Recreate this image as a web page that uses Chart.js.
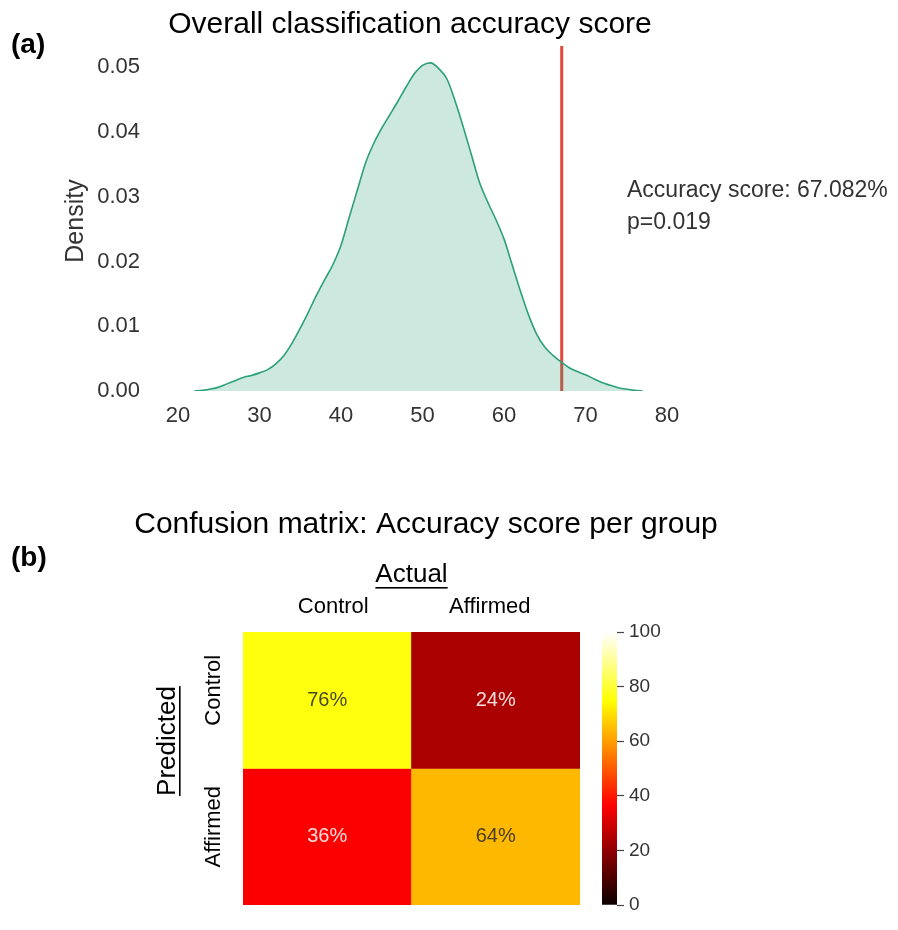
<!DOCTYPE html>
<html lang="en">
<head>
<meta charset="UTF-8">
<title>Classification accuracy</title>
<script src="https://cdn.jsdelivr.net/npm/chart.js@4"></script>
<style>
  body { margin: 0; background: #fff; }
  #wrap { position: relative; width: 898px; height: 930px; }
  canvas { position: absolute; }
</style>
</head>
<body>
<div id="wrap">
  <canvas id="densityChart" width="898" height="450" style="left:0;top:0"></canvas>
  <canvas id="matrixChart" width="898" height="470" style="left:0;top:460px"></canvas>
  <canvas id="colorbarChart" width="130" height="330" style="left:560px;top:600px"></canvas>
</div>

<script>
// ---- data ----
const accuracyGrid = [22, 23, 24, 25, 26, 27, 28, 29, 30, 31, 32, 33, 34, 35, 36, 37, 38, 39, 40,
  41, 42, 43, 44, 45, 46, 47, 48, 49, 50, 51, 52, 53, 54, 55, 56, 57, 58, 59, 60,
  61, 62, 63, 64, 65, 66, 67, 68, 69, 70, 71, 72, 73, 74, 75, 76, 77];
const densityValues = [0, 0.0001, 0.0003, 0.0006, 0.0011, 0.0016, 0.0021, 0.0024, 0.0028, 0.0033,
  0.0042, 0.0055, 0.0074, 0.0097, 0.0122, 0.0148, 0.0172, 0.0195, 0.0225,
  0.0268, 0.031, 0.0352, 0.0382, 0.0406, 0.0427, 0.0448, 0.047, 0.049, 0.0503, 0.0507,
  0.0498, 0.0482, 0.0448, 0.0408, 0.0365, 0.0322, 0.0292, 0.0265, 0.0235,
  0.0195, 0.0155, 0.0118, 0.0088, 0.0068, 0.0055, 0.0045, 0.0036, 0.003, 0.0025,
  0.0019, 0.0013, 0.0009, 0.0005, 0.0003, 0.0001, 0];
const observedScore = 67.082;
const pValue = 0.019;

const actualLabels = ['Control', 'Affirmed'];
const predictedLabels = ['Control', 'Affirmed'];
// rows = predicted, columns = actual (percent)
const matrixValues = [
  [76, 24],
  [36, 64]
];
const colorbarTicks = [0, 20, 40, 60, 80, 100];

const FONT = "'Liberation Sans', Arial, Helvetica, sans-serif";
const densityAxisMax = 0.0533;

// matplotlib "hot" colormap
function hotRGB(v) {
  const t = Math.max(0, Math.min(1, v / 100));
  const r = t < 0.365 ? 0.0416 + 0.9584 * t / 0.365 : 1;
  const g = t < 0.365 ? 0 : (t < 0.746 ? (t - 0.365) / 0.381 : 1);
  const b = t < 0.746 ? 0 : (t - 0.746) / 0.254;
  return [r, g, b].map(c => Math.round(c * 255));
}
function hotColor(v) {
  const c = hotRGB(v);
  return `rgb(${c[0]}, ${c[1]}, ${c[2]})`;
}
function textColorFor(v) {
  const c = hotRGB(v).map(x => x / 255);
  const lum = 0.2126 * c[0] + 0.7152 * c[1] + 0.0722 * c[2];
  return lum > 0.408 ? 'rgba(40,40,40,0.85)' : 'rgba(255,240,240,0.92)';
}

function rotatedText(ctx, text, x, y, font, color) {
  ctx.save();
  ctx.translate(x, y);
  ctx.rotate(-Math.PI / 2);
  ctx.font = font;
  ctx.fillStyle = color;
  ctx.textAlign = 'center';
  ctx.textBaseline = 'alphabetic';
  ctx.fillText(text, 0, 0);
  ctx.restore();
}

Chart.defaults.font.family = FONT;
Chart.defaults.animation = false;

// ---- (a) density plot ----
const densityText = {
  id: 'densityText',
  afterDraw(chart) {
    const ctx = chart.ctx;
    ctx.save();
    ctx.fillStyle = '#000';
    ctx.textAlign = 'center';
    ctx.font = '30px ' + FONT;
    ctx.fillText('Overall classification accuracy score', 410, 33);
    ctx.textAlign = 'left';
    ctx.font = 'bold 28px ' + FONT;
    ctx.fillText('(a)', 11, 53);
    ctx.fillStyle = '#333';
    ctx.font = '23px ' + FONT;
    ctx.fillText('Accuracy score: ' + observedScore.toFixed(3) + '%', 627, 197);
    ctx.fillText('p=' + pValue, 627, 229);
    ctx.restore();
    rotatedText(ctx, 'Density', 83, 221, '25px ' + FONT, '#333');
  }
};

new Chart(document.getElementById('densityChart'), {
  type: 'line',
  data: {
    datasets: [
      {
        data: accuracyGrid.map((x, i) => ({ x: x, y: densityValues[i] })),
        borderColor: '#2ca07a',
        backgroundColor: 'rgba(44,160,122,0.24)',
        borderWidth: 1.6,
        fill: 'origin',
        pointRadius: 0,
        cubicInterpolationMode: 'monotone'
      },
      {
        data: [{ x: observedScore, y: 0 }, { x: observedScore, y: densityAxisMax }],
        borderColor: '#e2473a',
        borderWidth: 3,
        pointRadius: 0,
        fill: false
      }
    ]
  },
  options: {
    responsive: false,
    layout: { padding: { left: 88, top: 46, right: 231, bottom: 9 } },
    plugins: { legend: { display: false }, tooltip: { enabled: false } },
    scales: {
      x: {
        type: 'linear', min: 20, max: 80,
        ticks: { stepSize: 10, font: { size: 22 }, color: '#333', padding: 12 },
        grid: { color: 'rgba(255,255,255,0.45)', drawTicks: false },
        border: { display: false },
        afterFit(s) { s.height = 50; }
      },
      y: {
        min: 0, max: densityAxisMax, bounds: 'data',
        ticks: { stepSize: 0.01, includeBounds: false, font: { size: 22 }, color: '#333', padding: 38,
          callback: v => v.toFixed(2) },
        grid: { color: 'rgba(255,255,255,0.45)', drawTicks: false },
        border: { display: false },
        afterFit(s) { s.width = 90; s.paddingTop = 0; s.paddingBottom = 0; }
      }
    }
  },
  plugins: [densityText]
});

// ---- (b) confusion matrix ----
const OFFSET_Y = 460;
const matrixText = {
  id: 'matrixText',
  afterDatasetsDraw(chart) {
    const ctx = chart.ctx;
    ctx.save();
    ctx.font = '20px ' + FONT;
    ctx.textAlign = 'center';
    ctx.textBaseline = 'middle';
    chart.data.datasets.forEach((ds, r) => {
      chart.getDatasetMeta(r).data.forEach((bar, c) => {
        const v = matrixValues[r][c];
        ctx.fillStyle = textColorFor(v);
        ctx.fillText(v + '%', bar.x, (bar.y + bar.base) / 2);
      });
    });
    ctx.restore();
  },
  afterDraw(chart) {
    const ctx = chart.ctx;
    const area = chart.chartArea;
    const xScale = chart.scales.x;
    const yScale = chart.scales.y;
    ctx.save();
    ctx.fillStyle = '#000';
    ctx.textAlign = 'center';
    ctx.font = '30px ' + FONT;
    ctx.fillText('Confusion matrix: Accuracy score per group', 426, 533 - OFFSET_Y);
    ctx.textAlign = 'left';
    ctx.font = 'bold 28px ' + FONT;
    ctx.fillText('(b)', 11, 566 - OFFSET_Y);
    // "Actual" underlined
    ctx.font = '26px ' + FONT;
    ctx.textAlign = 'center';
    const ax = (area.left + area.right) / 2;
    const ay = 582 - OFFSET_Y;
    ctx.fillText('Actual', ax, ay);
    const aw = ctx.measureText('Actual').width;
    ctx.fillRect(ax - aw / 2, ay + 5, aw, 1.6);
    // column labels (actual), nudged toward the middle as in the figure
    ctx.font = '22px ' + FONT;
    actualLabels.forEach((lab, c) => {
      const nudge = c === 0 ? 6 : -6;
      ctx.fillText(lab, xScale.getPixelForValue(c) + nudge, 613 - OFFSET_Y);
    });
    ctx.restore();

    // row labels (predicted)
    predictedLabels.forEach((lab, r) => {
      const y = yScale.getPixelForValue(predictedLabels.length - r - 0.5) - 10;
      rotatedText(ctx, lab, 220, y, '22px ' + FONT, '#000');
    });
    // "Predicted" underlined, rotated
    const py = 741 - OFFSET_Y;
    rotatedText(ctx, 'Predicted', 175, py, '26px ' + FONT, '#000');
    ctx.save();
    ctx.font = '26px ' + FONT;
    const pw = ctx.measureText('Predicted').width;
    ctx.fillStyle = '#000';
    ctx.fillRect(179, py - pw / 2, 1.6, pw);
    ctx.restore();
  }
};

new Chart(document.getElementById('matrixChart'), {
  type: 'bar',
  data: {
    labels: actualLabels,
    datasets: predictedLabels.map((lab, r) => {
      const base = predictedLabels.length - r - 1;
      return {
        label: lab,
        data: actualLabels.map(() => [base, base + 1]),
        backgroundColor: matrixValues[r].map(hotColor),
        borderWidth: 0,
        grouped: false,
        barPercentage: 1,
        categoryPercentage: 1
      };
    })
  },
  options: {
    responsive: false,
    layout: { padding: { left: 243, top: 172, right: 318, bottom: 25 } },
    plugins: { legend: { display: false }, tooltip: { enabled: false } },
    scales: {
      x: { display: false },
      y: { display: false, min: 0, max: predictedLabels.length }
    }
  },
  plugins: [matrixText]
});

// ---- colour bar ----
new Chart(document.getElementById('colorbarChart'), {
  type: 'bar',
  data: {
    labels: [''],
    datasets: [{
      data: [[colorbarTicks[0], colorbarTicks[colorbarTicks.length - 1]]],
      backgroundColor(context) {
        const area = context.chart.chartArea;
        if (!area) return null;
        const g = context.chart.ctx.createLinearGradient(0, area.bottom, 0, area.top);
        [0, 0.365, 0.746, 1].forEach(t => g.addColorStop(t, hotColor(t * 100)));
        return g;
      },
      borderWidth: 0,
      barPercentage: 1,
      categoryPercentage: 1
    }]
  },
  options: {
    responsive: false,
    layout: { padding: { left: 42, top: 32, right: 0, bottom: 25 } },
    plugins: { legend: { display: false }, tooltip: { enabled: false } },
    scales: {
      x: { display: false },
      y: {
        position: 'right', min: 0, max: 100,
        ticks: { stepSize: 20, font: { size: 19 }, color: '#333', padding: 5 },
        grid: { drawOnChartArea: false, drawTicks: true, tickLength: 7, tickColor: '#444', tickWidth: 1.2 },
        border: { display: false },
        afterFit(s) { s.width = 73; s.paddingTop = 0; s.paddingBottom = 0; }
      }
    }
  }
});
</script>
</body>
</html>
